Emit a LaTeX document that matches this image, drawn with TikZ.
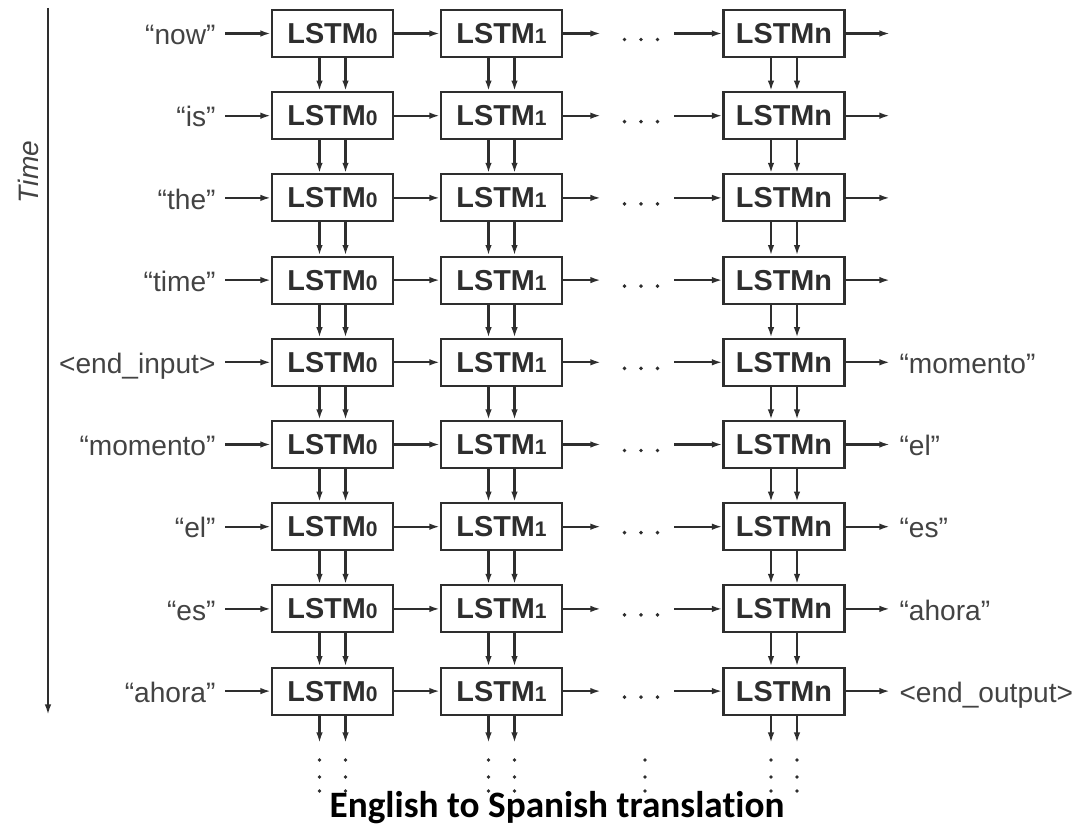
\documentclass[tikz,border=0pt]{standalone}
\usepackage{fontspec}
\setmainfont{Liberation Sans}
\newfontfamily\captionfont[Ligatures=NoCommon]{Carlito}
\usetikzlibrary{arrows.meta, positioning}

\definecolor{ink}{HTML}{2E2E2E}
\newcommand{\idx}[1]{{\fontsize{15}{15}\selectfont #1}}

\begin{document}
\begin{tikzpicture}[
            x = 0.025cm, y = -0.025cm, % one unit per pixel, y running down
            > = {Latex[length=7.5pt, width=4.6pt]}, % arrow head style
            line width = 1.5pt,
            draw = ink
        ]

        \tikzstyle{cell}=[
            draw = ink,
            line width = 1.5pt,
            fill = white,
            text = ink,
            minimum width = 86pt,
            minimum height = 33.4pt,
            inner sep = 0pt,
            font = \fontsize{20.5}{24}\selectfont\bfseries
        ]
        \tikzstyle{word}=[
            text = ink!90,
            inner xsep = 6pt,
            text height = 17.4pt,
            text depth = 1.4pt,
            font = \fontsize{20}{24}\selectfont
        ]
        \tikzstyle{gap}=[minimum width = 50.5pt, inner sep = 0pt]

        \useasboundingbox (0,0) rectangle (1079,828);

        % time axis
        \coordinate (tstart) at (48,8);
        \coordinate (tend) at (48,715);
        \draw[->] (tstart) -- (tend);
        \node[word, rotate = 90, font = \fontsize{20}{24}\selectfont\itshape] (time) at (27,172) {Time};

        % one row per time step
        \foreach \w/\o [count=\r] in {“now”/{}, “is”/{}, “the”/{}, “time”/{},
                <end\_input>/“momento”, “momento”/“el”, “el”/“es”,
                “es”/“ahora”, “ahora”/<end\_output>} {
            \pgfmathsetmacro\y{33.5 + 82.2*(\r-1)}
            \node[cell] (a\r) at (332.5,\y) {LSTM\idx{0}};
            \node[cell] (b\r) at (501.5,\y) {LSTM\idx{1}};
            \node[gap] (d\r) at (637.5,\y) {};
            \node[cell] (c\r) at (784,\y) {LSTMn};
            \node[word, anchor = east] (in\r) at (225,\y) {\w};
            \node[word, anchor = west] (out\r) at (890,\y) {\o};

            \draw[->] (in\r) -- (a\r);
            \draw[->] (a\r) -- (b\r);
            \draw[->] (b\r) -- (d\r);
            \draw[->] (d\r) -- (c\r);
            \draw[->] (c\r) -- (out\r);
            \foreach \dx in {-16.5,0,16.5}
                \fill[ink] (641+\dx,\y+6) circle (1.4pt);
        }

        % state passed down to the next time step
        \foreach \r [evaluate = \r as \s using int(\r+1)] in {1,...,8}
            \foreach \c in {a,b,c} {
                \draw[->] ([xshift=-9.25pt]\c\r.south) -- ([xshift=-9.25pt]\c\s.north);
                \draw[->] ([xshift=9.25pt]\c\r.south) -- ([xshift=9.25pt]\c\s.north);
            }

        \foreach \c/\cx in {a/332.5, b/501.5, c/784}
            \foreach \side/\dx in {l/-13, r/13} {
                \coordinate (end\c\side) at (\cx+\dx,743);
                \draw[->] (\c9.south -| end\c\side) -- (end\c\side);
                \foreach \dy in {760,777,791}
                    \fill[ink] (\cx+\dx,\dy) circle (1.4pt);
            }
        \foreach \dy in {760,777,791}
            \fill[ink] (645,\dy) circle (1.4pt);

        \node[anchor = base, font = \captionfont\fontsize{26.5}{30}\selectfont\bfseries] (title) at (557,817) {English to Spanish translation};

\end{tikzpicture}
\end{document}
